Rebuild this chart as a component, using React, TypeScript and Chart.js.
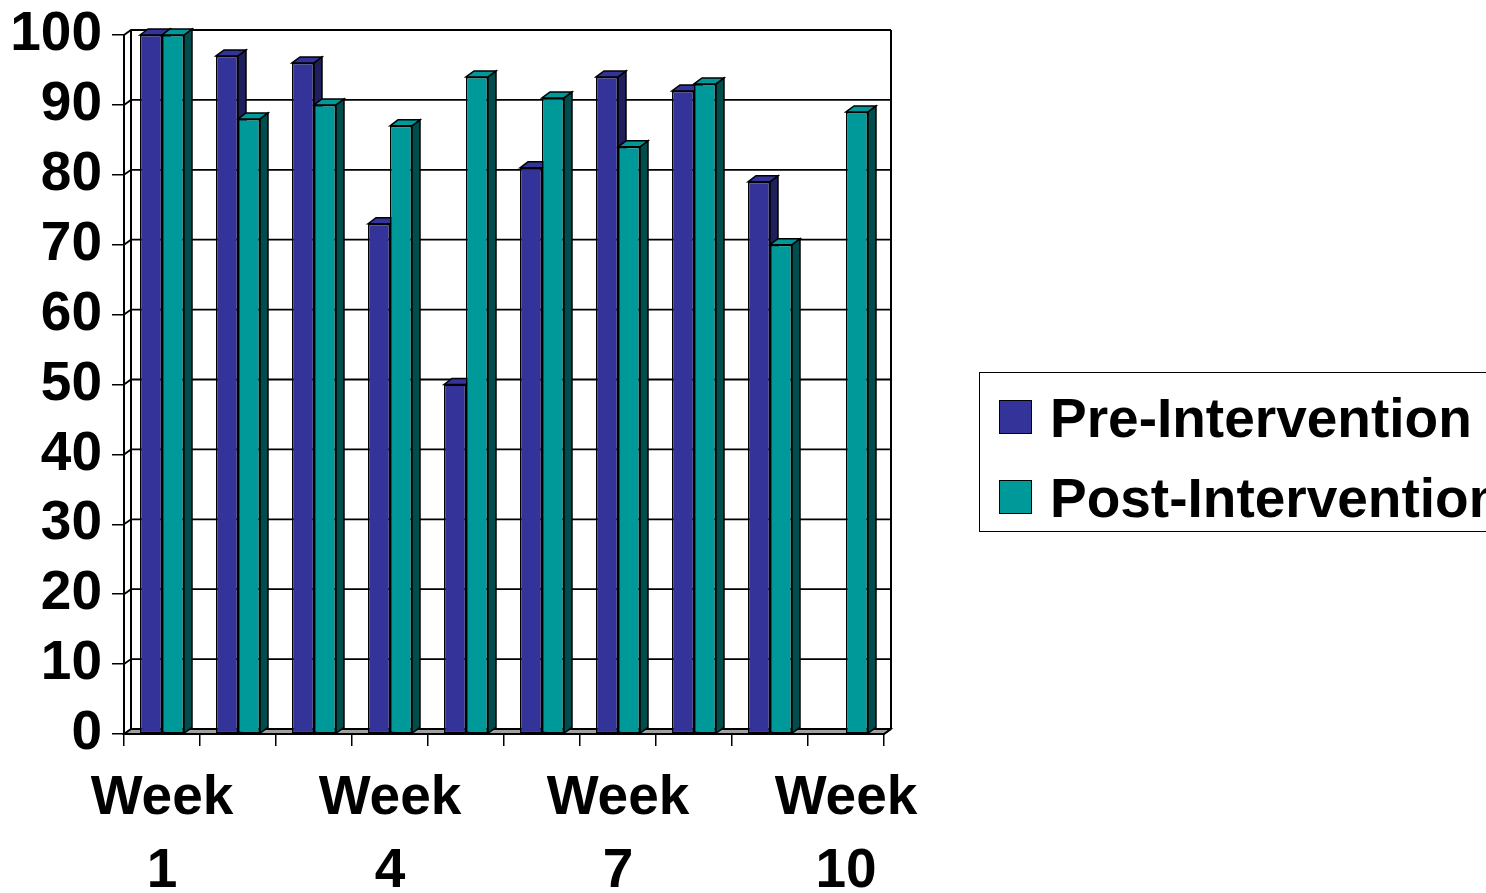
import React, { useEffect, useRef } from "react";
import { Chart, registerables } from "chart.js";

Chart.register(...registerables);

const categories = ["Week 1", "Week 2", "Week 3", "Week 4", "Week 5", "Week 6", "Week 7", "Week 8", "Week 9", "Week 10"];
const shownLabels = [0, 3, 6, 9];
const preValues = [100, 97, 96, 73, 50, 81, 94, 92, 79, 0];
const postValues = [100, 88, 90, 87, 94, 91, 84, 93, 70, 89];
const yTickValues = [0, 10, 20, 30, 40, 50, 60, 70, 80, 90, 100];
const seriesNames = ["Pre-Intervention", "Post-Intervention"];

const FRONT = ["#333399", "#009999"];
const SIDE = ["#1f1f5c", "#004d4d"];
const TOP = ["#333399", "#009999"];

const DX = 8, DY = 6; // bar depth
const WX = 7, WY = 5; // wall depth
const FONT = "'Liberation Sans', Arial, sans-serif";

const threeD = {
  id: "threeD",
  beforeDatasetsDraw(chart: any) {
    const { ctx, chartArea, scales } = chart;
    const ys = scales.y;
    const L = chartArea.left, R = chartArea.right;
    const T = ys.getPixelForValue(100), B = ys.getPixelForValue(0);
    ctx.save();
    ctx.strokeStyle = "#000";
    ctx.lineWidth = 1.5;
    ctx.lineJoin = "miter";
    ctx.beginPath();
    ctx.moveTo(L, B); ctx.lineTo(R, B); ctx.lineTo(R + WX, B - WY); ctx.lineTo(L + WX, B - WY); ctx.closePath();
    ctx.fillStyle = "#a0a0a0"; ctx.fill(); ctx.stroke();
    ctx.lineWidth = 1.8;
    for (const v of yTickValues) {
      const yy = ys.getPixelForValue(v);
      ctx.beginPath();
      ctx.moveTo(L, yy); ctx.lineTo(L + WX, yy - WY); ctx.lineTo(R + WX, yy - WY);
      ctx.stroke();
    }
    ctx.lineWidth = 2;
    ctx.beginPath();
    ctx.moveTo(L + WX, T - WY); ctx.lineTo(L + WX, B - WY);
    ctx.moveTo(R + WX, T - WY); ctx.lineTo(R + WX, B - WY);
    ctx.moveTo(L, T); ctx.lineTo(L, B);
    ctx.stroke();
    ctx.lineWidth = 1.5;
    const n = chart.data.labels.length;
    for (let i = 0; i < n; i++) {
      for (let d = 0; d < chart.data.datasets.length; d++) {
        const meta = chart.getDatasetMeta(d);
        const el: any = meta.data[i];
        const val = chart.data.datasets[d].data[i];
        if (!el || !val) continue;
        const x1 = el.x - el.width / 2, x2 = el.x + el.width / 2;
        const top = el.y, base = el.base;
        ctx.beginPath();
        ctx.moveTo(x2, top); ctx.lineTo(x2 + DX, top - DY); ctx.lineTo(x2 + DX, base - DY); ctx.lineTo(x2, base); ctx.closePath();
        ctx.fillStyle = SIDE[d]; ctx.fill(); ctx.stroke();
        ctx.beginPath();
        ctx.moveTo(x1, top); ctx.lineTo(x1 + DX, top - DY); ctx.lineTo(x2 + DX, top - DY); ctx.lineTo(x2, top); ctx.closePath();
        ctx.fillStyle = TOP[d]; ctx.fill(); ctx.stroke();
      }
    }
    ctx.restore();
  },
  afterDatasetsDraw(chart: any) {
    const { ctx, chartArea, scales } = chart;
    const B = scales.y.getPixelForValue(0);
    const L = chartArea.left, R = chartArea.right;
    ctx.save();
    ctx.strokeStyle = "#000";
    ctx.lineWidth = 2;
    ctx.beginPath();
    ctx.moveTo(L, B); ctx.lineTo(R, B); ctx.lineTo(R + WX, B - WY);
    ctx.stroke();
    ctx.restore();
  },
};

export default function App() {
  const ref = useRef<HTMLCanvasElement | null>(null);
  useEffect(() => {
    if (!ref.current) return;
    const chart = new Chart(ref.current, {
      type: "bar",
      data: {
        labels: categories,
        datasets: [
          {
            label: seriesNames[0],
            data: preValues,
            backgroundColor: FRONT[0],
            borderColor: "#000",
            borderWidth: (c: any) => (c.raw === 0 ? 0 : 1.5),
            borderSkipped: false,
            barPercentage: 1,
            categoryPercentage: 44 / 76,
          },
          {
            label: seriesNames[1],
            data: postValues,
            backgroundColor: FRONT[1],
            borderColor: "#000",
            borderWidth: (c: any) => (c.raw === 0 ? 0 : 1.5),
            borderSkipped: false,
            barPercentage: 1,
            categoryPercentage: 44 / 76,
          },
        ],
      },
      options: {
        responsive: false,
        animation: false,
        layout: { padding: { top: 35, right: 602, left: 0, bottom: 0 } },
        plugins: { legend: { display: false }, tooltip: { enabled: false } },
        scales: {
          x: {
            grid: { display: true, drawOnChartArea: false, drawTicks: true, tickLength: 12, color: "#000", lineWidth: 1.5, offset: true },
            border: { display: false },
            ticks: {
              autoSkip: false,
              maxRotation: 0,
              minRotation: 0,
              padding: 16,
              color: "#000",
              font: { family: FONT, size: 55, weight: "bold", lineHeight: 73 / 55 },
              callback: (_v: any, i: number) => (shownLabels.includes(i) ? categories[i].split(" ") : ""),
            },
            afterFit: (s: any) => { s.height = 159; },
          },
          y: {
            min: 0,
            max: 100,
            grid: { display: true, drawOnChartArea: false, drawTicks: true, tickLength: 12, color: "#000", lineWidth: 1.5 },
            border: { display: false },
            ticks: {
              stepSize: 10,
              padding: 10,
              color: "#000",
              font: { family: FONT, size: 55, weight: "bold", lineHeight: 1 },
            },
            afterFit: (s: any) => { s.width = 124; s.paddingTop = 0; s.paddingBottom = 0; },
          },
        },
      },
      plugins: [threeD],
    } as any);
    return () => chart.destroy();
  }, []);

  const legendText: React.CSSProperties = {
    position: "absolute",
    left: 70,
    fontFamily: FONT,
    fontWeight: "bold",
    fontSize: 55,
    lineHeight: "55px",
    whiteSpace: "nowrap",
    color: "#000",
  };
  const swatch: React.CSSProperties = {
    position: "absolute",
    left: 19,
    width: 31,
    height: 32,
    border: "1.5px solid #000",
  };

  return (
    <div style={{ position: "fixed", left: 0, top: 0, width: 1486, height: 893, overflow: "hidden", background: "#fff" }}>
      <canvas ref={ref} width={1486} height={893} style={{ position: "absolute", left: 0, top: 0, width: 1486, height: 893 }} />
      <div style={{ position: "absolute", left: 979, top: 372, width: 620, height: 158, border: "1.5px solid #000", background: "#fff" }}>
        <div style={{ ...swatch, top: 27, background: FRONT[0] }} />
        <div style={{ ...legendText, top: 18 }}>{seriesNames[0]}</div>
        <div style={{ ...swatch, top: 107, background: FRONT[1] }} />
        <div style={{ ...legendText, top: 98 }}>{seriesNames[1]}</div>
      </div>
    </div>
  );
}
